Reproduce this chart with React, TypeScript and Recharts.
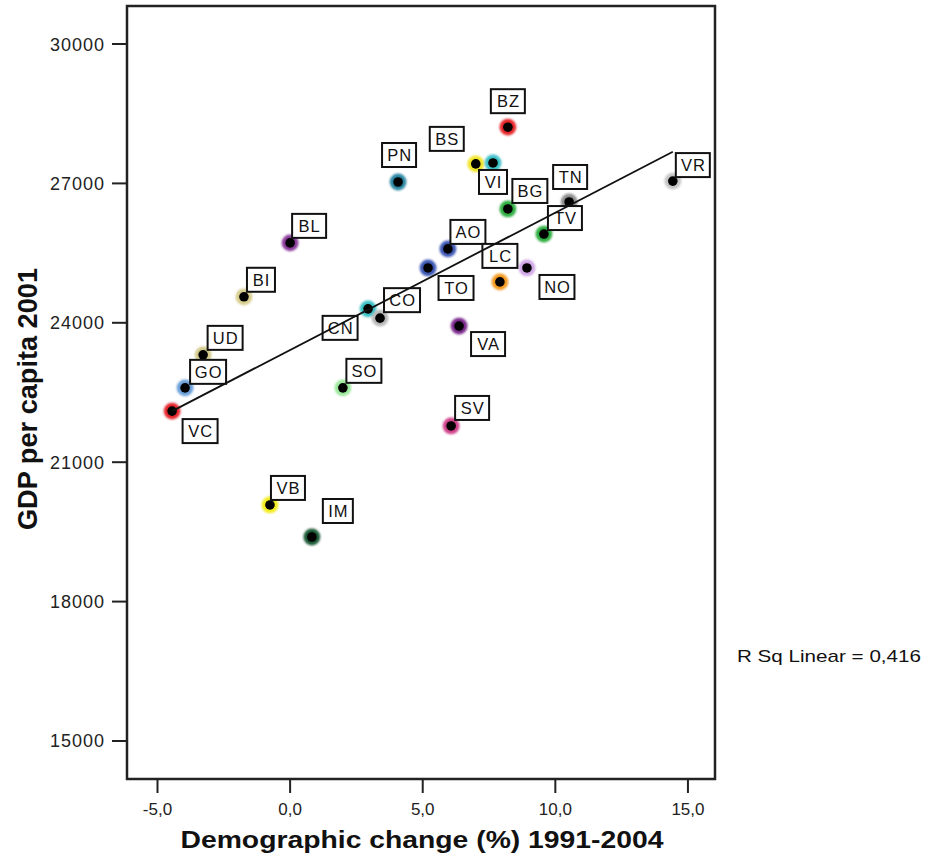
import React from 'react';
import { ScatterChart, Scatter, XAxis, YAxis, ReferenceArea, Label } from 'recharts';

// ---- data ----
const provinces = ['VC', 'GO', 'UD', 'BI', 'BL', 'PN', 'VB', 'IM', 'SO', 'CN', 'CO', 'TO', 'AO', 'VA', 'SV', 'BS', 'VI', 'BZ', 'BG', 'LC', 'NO', 'TN', 'TV', 'VR'];
const demographicChange = [-4.45, -3.96, -3.28, -1.74, 0.0, 4.07, -0.76, 0.82, 1.99, 2.94, 3.39, 5.2, 5.95, 6.37, 6.07, 7.0, 7.65, 8.21, 8.21, 7.91, 8.93, 10.52, 9.57, 14.43];
const gdpPerCapita2001 = [22100, 22600, 23310, 24560, 25720, 27030, 20080, 19390, 22600, 24300, 24100, 25180, 25590, 23930, 21780, 27420, 27440, 28210, 26450, 24880, 25180, 26600, 25910, 27050];
const fitLineX = [-4.45, 14.43];
const fitLineY = [22100, 27680];
const xTicks = [-5, 0, 5, 10, 15];
const yTicks = [15000, 18000, 21000, 24000, 27000, 30000];
const xDomain = [-6.15, 16.02];
const yDomain = [14182, 30818];
const rSquaredText = 'R Sq Linear = 0,416';
const xTitle = 'Demographic change (%) 1991-2004';
const yTitle = 'GDP per capita 2001';

// ---- styles ----
const pointColors: Record<string, string> = {
  VC: '#e5262b', GO: '#6a9fd8', UD: '#d2c98a', BI: '#d6cc8c', BL: '#8b3a9a', PN: '#2b86a3',
  VB: '#f2ec1e', IM: '#1c5a37', SO: '#9be89b', CN: '#3bbfc6', CO: '#b8b8b8', TO: '#3e58b5',
  AO: '#3e58b5', VA: '#7b2a8c', SV: '#d0428b', BS: '#f0e52a', VI: '#3fc0c8', BZ: '#e5262b',
  BG: '#2fae42', LC: '#f39a1f', NO: '#cfa6e6', TN: '#8f8f8f', TV: '#2fae42', VR: '#c4c4c4',
};
// label box placement relative to its point (box centre offset, px)
const labelPlacement: Record<string, [number, number]> = {
  VC: [28, 20], GO: [23, -16], UD: [22, -17], BI: [17, -17], BL: [19, -17], PN: [1, -27],
  VB: [18, -17], IM: [26, -26], SO: [21, -17], CN: [-28, 19], CO: [22, -18], TO: [28, 20],
  AO: [20, -17], VA: [29, 18], SV: [21, -18], BS: [-29, -25], VI: [0, 19], BZ: [0, -26],
  BG: [22, -18], LC: [0, -26], NO: [30, 19], TN: [1, -25], TV: [21, -16], VR: [20, -16],
};

const FONT = '"Liberation Sans", Arial, sans-serif';

const data = provinces.map((p, i) => ({ name: p, x: demographicChange[i], y: gdpPerCapita2001[i] }));
const fitData = fitLineX.map((x, i) => ({ x, y: fitLineY[i] }));

const charW = (c: string) => (c === 'I' ? 5 : c === 'M' ? 13 : 'OGCD'.includes(c) ? 12 : 11);

const DotShape = (props: any) => {
  const { cx, cy, payload } = props;
  if (cx == null || cy == null) return <g />;
  const color = pointColors[payload.name] || '#888';
  return (
    <g>
      <circle cx={cx} cy={cy} r={8.4} fill={color} style={{ filter: 'blur(0.8px)' }} />
      <circle cx={cx} cy={cy} r={4.8} fill="#000" style={{ filter: 'blur(0.4px)' }} />
    </g>
  );
};

const LabelShape = (props: any) => {
  const { cx, cy, payload } = props;
  if (cx == null || cy == null) return <g />;
  const name: string = payload.name;
  const [dx, dy] = labelPlacement[name] || [20, -17];
  const w = name.split('').reduce((s, c) => s + charW(c), 0) + 12;
  const h = 24;
  const bx = cx + dx;
  const by = cy + dy;
  return (
    <g>
      <rect x={bx - w / 2} y={by - h / 2} width={w} height={h} fill="#fff" stroke="#111" strokeWidth={2} />
      <text x={bx + 0.6} y={by + 6} textAnchor="middle" fontFamily={FONT} fontSize={16.5} letterSpacing={1} fill="#111">
        {name}
      </text>
    </g>
  );
};

const NoShape = () => <g />;

const XTick = (props: any) => {
  const { x, y, payload } = props;
  return (
    <text x={x} y={y} dy={13} textAnchor="middle" fontFamily={FONT} fontSize={17} fill="#222">
      {Number(payload.value).toFixed(1).replace('.', ',')}
    </text>
  );
};

const YTick = (props: any) => {
  const { x, y, payload } = props;
  return (
    <text x={x} y={y} dy={6.5} textAnchor="end" fontFamily={FONT} fontSize={18} letterSpacing={1} fill="#222">
      {String(payload.value)}
    </text>
  );
};

export default function App() {
  return (
    <div style={{ position: 'absolute', left: 0, top: 0, width: 925, height: 854, background: '#fff' }}>
      <ScatterChart width={925} height={854} margin={{ top: 6, right: 210, bottom: 0, left: 0 }}>
        <XAxis
          type="number"
          dataKey="x"
          domain={xDomain}
          ticks={xTicks}
          allowDataOverflow
          height={75}
          tickSize={14}
          tickMargin={9}
          axisLine={false}
          tickLine={{ stroke: '#222', strokeWidth: 2 }}
          tick={<XTick />}
          interval={0}
        >
          <Label
            content={() => (
              <text x={422} y={848} textAnchor="middle" fontFamily={FONT} fontWeight="bold" fontSize={24}
                textLength={483} lengthAdjust="spacingAndGlyphs" fill="#111">
                {xTitle}
              </text>
            )}
          />
        </XAxis>
        <YAxis
          type="number"
          dataKey="y"
          domain={yDomain}
          ticks={yTicks}
          allowDataOverflow
          width={127}
          tickSize={15}
          tickMargin={7}
          axisLine={false}
          tickLine={{ stroke: '#222', strokeWidth: 2 }}
          tick={<YTick />}
          interval={0}
        >
          <Label
            content={() => (
              <text x={37} y={399} transform="rotate(-90 37 399)" textAnchor="middle" fontFamily={FONT}
                fontWeight="bold" fontSize={27} textLength={262} lengthAdjust="spacingAndGlyphs" fill="#111">
                {yTitle}
              </text>
            )}
          />
        </YAxis>
        <ReferenceArea x1={xDomain[0]} x2={xDomain[1]} y1={yDomain[0]} y2={yDomain[1]} fill="none" stroke="#222" strokeWidth={2.5} ifOverflow="visible" />
        <Scatter data={data} shape={DotShape} isAnimationActive={false} />
        <Scatter data={data} shape={LabelShape} isAnimationActive={false} />
        <Scatter data={fitData} shape={NoShape} line={{ stroke: '#111', strokeWidth: 1.8 }} isAnimationActive={false} />
      </ScatterChart>
      <svg width={925} height={854} style={{ position: 'absolute', left: 0, top: 0, pointerEvents: 'none' }}>
        <text x={737} y={662} fontFamily={FONT} fontSize={17} textLength={184} lengthAdjust="spacingAndGlyphs" fill="#111">
          {rSquaredText}
        </text>
      </svg>
    </div>
  );
}
